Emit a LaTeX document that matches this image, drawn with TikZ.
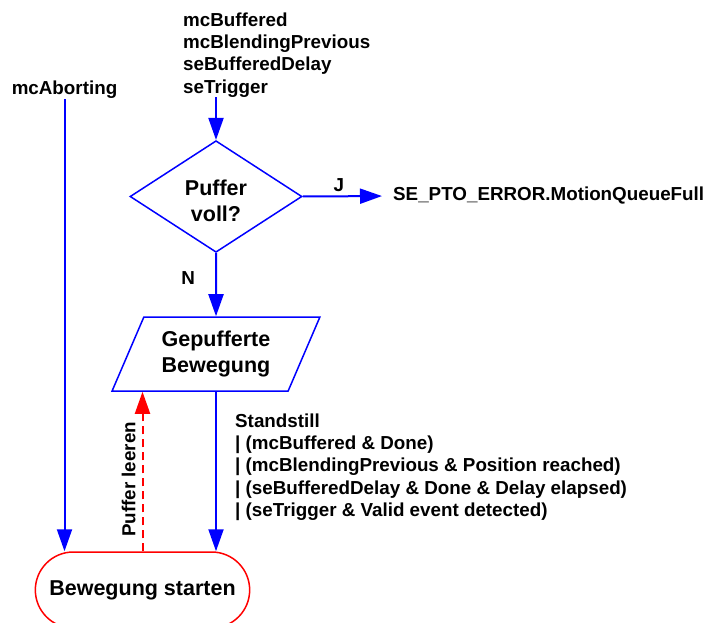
\documentclass[tikz,border=0pt]{standalone}
\usepackage{fontspec}
\setmainfont{Liberation Sans}
\usetikzlibrary{shapes.geometric, shapes.misc, arrows.meta}

\begin{document}
\begin{tikzpicture}[x=1pt, y=-1pt, font=\fontsize{18.8}{22.3}\selectfont\bfseries]

% Keep the frame of the whole chart
\useasboundingbox (0,0) rectangle (706,623);

% Define styles for boxes, texts and arrows
\tikzstyle{txt} = [inner sep=0pt, align=left]
\tikzstyle{lbl} = [inner sep=0pt, text=black]
\tikzstyle{box font} = [font=\fontsize{21.5}{25.3}\selectfont\bfseries]
\tikzstyle{decision} = [diamond, draw=blue, line width=1.5pt, minimum width=172pt, minimum height=107pt, inner sep=0pt, align=center, box font]
\tikzstyle{io} = [trapezium, trapezium left angle=64, trapezium right angle=116, trapezium stretches=true, draw=blue, fill=white, line width=1.5pt, minimum width=208pt, minimum height=74pt, align=center, box font]
\tikzstyle{terminal} = [rounded rectangle, draw=red, line width=1.5pt, minimum width=221pt, minimum height=76pt, box font]
\tikzstyle{flow} = [blue, line width=2pt, -{Triangle[length=22pt, width=15pt]}]
\tikzstyle{back} = [red, line width=2pt, dash pattern=on 8pt off 5pt, -{Triangle[length=22pt, width=15pt]}]

% Place the nodes from top to bottom
\node[txt] (abort) at (64.5,90) {mcAborting};
\node[txt, anchor=west] (modes) at (183,55) {mcBuffered\\mcBlendingPrevious\\seBufferedDelay\\seTrigger};
\node[decision] (full) at (216,196.5) {\rule{0pt}{24pt}Puffer\\voll?};
\node[txt, anchor=west] (error) at (393,196) {SE\_PTO\_ERROR.MotionQueueFull};
\node[io] (buffer) at (216,354) {Gepufferte\\Bewegung};
\node[terminal] (start) at (142.5,590) {Bewegung starten};
\node[txt, anchor=west] (cond) at (235,467) {Standstill\\| (mcBuffered \& Done)\\| (mcBlendingPrevious \& Position reached)\\| (seBufferedDelay \& Done \& Delay elapsed)\\| (seTrigger \& Valid event detected)};

% Connect them
\draw[flow] (full.north |- modes.south) -- (full.north);
\draw[flow, shorten >=11pt] (full.east) -- (error.west)
    node[lbl, pos=0.4, above=3.5pt] {J};
\draw[flow] (full.south) -- (buffer.north)
    node[lbl, pos=0.39, left=20pt] {N};
\draw[flow] (buffer.south) -- (buffer.south |- start.north);
\draw[flow] (abort.south) -- (abort.south |- start.north);
\draw[back] (start.north) -- (start.north |- buffer.south)
    node[lbl, pos=0.45, anchor=south, rotate=90, inner sep=6pt] {Puffer leeren};

\end{tikzpicture}
\end{document}
